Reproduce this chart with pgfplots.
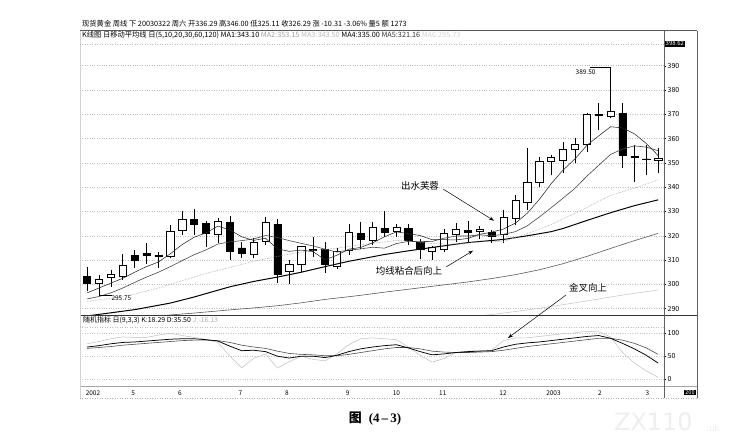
\documentclass[border=0pt]{standalone}
\usepackage{pgfplots}
\pgfplotsset{compat=1.18}
\usepackage{pgfplotstable}
\usepackage{fontspec}
\setmainfont{Noto Sans CJK SC}
\newfontfamily\serifb{Liberation Serif}
\newfontfamily\wmfont{DejaVu Sans}
\usetikzlibrary{arrows.meta}
\newcommand{\fs}[1]{\fontsize{#1}{#1}\selectfont}

% weekly candles: index, open, high, low, close
\pgfplotstableread{
i O H L C
1 303.2 307.0 297.4 300.6
2 300.6 304.0 295.75 302.0
3 302.9 305.9 299.0 304.3
4 303.5 312.5 302.0 308.0
5 311.8 314.2 306.6 310.0
6 312.8 317.0 308.4 312.0
7 312.0 313.5 306.6 311.5
8 311.7 324.4 310.7 321.7
9 322.4 330.3 320.3 326.8
10 326.9 331.0 320.3 324.9
11 325.0 326.0 315.5 321.0
12 320.7 327.2 317.0 325.8
13 325.4 328.2 310.0 313.5
14 315.0 317.6 310.7 313.0
15 312.5 319.0 310.7 317.2
16 317.6 327.6 316.2 325.4
17 324.7 327.0 300.7 304.0
18 305.2 310.0 300.0 308.4
19 308.4 316.0 305.2 315.5
20 314.5 319.3 311.4 314.0
21 314.4 317.6 304.8 308.4
22 307.6 315.0 306.5 313.5
23 314.2 325.0 312.0 321.3
24 321.0 325.8 314.4 318.6
25 318.3 325.8 316.2 323.5
26 323.0 330.0 319.6 321.3
27 321.7 325.0 319.6 323.3
28 323.0 324.7 316.2 318.0
29 317.3 318.5 310.3 314.4
30 313.7 316.0 310.0 315.1
31 314.4 322.7 313.5 321.0
32 320.7 325.1 317.6 322.8
33 322.1 326.2 317.6 321.3
34 321.7 324.0 318.5 322.8
35 321.3 322.5 317.2 319.6
36 320.5 330.6 317.2 327.6
37 327.2 336.8 324.4 334.7
38 334.0 356.0 330.6 341.9
39 341.9 352.6 340.2 350.5
40 350.5 353.3 345.0 352.3
41 350.9 358.7 345.7 355.6
42 355.6 360.1 349.8 357.8
43 357.8 370.4 354.6 370.0
44 369.5 374.8 363.5 370.0
45 369.0 389.5 368.4 371.1
46 370.4 374.5 347.8 353.0
47 352.8 357.4 342.3 352.3
48 351.7 357.4 345.0 351.3
49 351.2 356.0 345.7 352.1
}\candles

\pgfplotstableread{
i v
1 296.5
2 298.5
3 300.5
4 302.5
5 305.0
6 307.3
7 309.2
8 312.6
9 316.4
10 319.4
11 321.2
12 324.0
13 322.4
14 319.6
15 318.1
16 319.0
17 314.6
18 313.6
19 314.1
20 313.5
21 310.1
22 312.0
23 314.5
24 315.2
25 317.1
26 319.6
27 321.6
28 320.9
29 320.1
30 318.4
31 318.4
32 318.3
33 318.9
34 320.6
35 321.5
36 322.8
37 325.2
38 329.3
39 334.9
40 341.4
41 347.0
42 351.6
43 357.2
44 361.1
45 364.9
46 364.4
47 362.0
48 358.0
49 353.0
}\maA

\pgfplotstableread{
i v
1 294.0
2 295.0
3 296.5
4 298.5
5 300.8
6 303.0
7 305.0
8 307.3
9 309.8
10 312.2
11 314.2
12 316.6
13 317.5
14 318.0
15 318.7
16 320.1
17 319.3
18 318.0
19 316.9
20 315.8
21 314.5
22 313.3
23 314.1
24 314.6
25 315.3
26 314.9
27 316.8
28 317.7
29 317.6
30 317.7
31 319.0
32 319.9
33 319.9
34 320.4
35 320.0
36 320.6
37 321.7
38 324.1
39 327.7
40 331.5
41 335.5
42 339.5
43 344.5
44 349.0
45 353.5
46 355.7
47 357.0
48 356.5
49 355.0
}\maB

\pgfplotstableread{
i v
1 293.0
3 294.2
5 296.0
7 298.5
9 301.5
11 304.5
13 307.0
15 309.5
17 311.5
19 313.3
20 314.0
22 314.9
24 316.3
26 317.5
27 318.1
28 317.9
30 316.8
32 316.6
34 317.5
36 317.7
37 319.3
38 320.9
39 322.7
40 324.6
41 327.0
42 329.2
43 331.6
44 334.2
45 336.6
46 338.1
47 339.6
48 341.3
49 343.1
}\maC

\pgfplotstableread{
i v
1 287.0
3 288.3
5 289.6
8 292.3
10 294.8
13 299.0
15 301.2
17 303.0
19 305.0
21 307.3
23 309.5
26 312.3
28 313.8
30 315.2
33 317.2
36 318.5
38 320.0
40 321.7
41 323.0
43 326.3
45 329.5
47 332.4
49 334.8
}\maD

\pgfplotstableread{
i v
7 287.0
10 288.2
13 289.5
15 290.3
17 291.2
19 292.4
21 293.8
24 295.5
26 296.8
28 298.0
30 299.2
33 301.0
35 302.4
37 304.0
39 306.0
41 308.5
43 311.5
45 314.8
47 318.0
49 321.0
}\maE

\pgfplotstableread{
i v
34 287.0
36 288.2
38 289.5
40 290.9
42 292.4
44 294.0
46 295.6
48 297.0
49 297.7
}\maF

\pgfplotstableread{
i K D J
1 70 67 77
2 73 69 82
3 77 71 88
4 80 74 92
5 81 76 91
6 83 78 91
7 85 80 96
8 87 82 100
9 88 84 95
10 88 85 91
11 86 85 87
12 83 84 80
13 72 80 50
14 62 74 25
15 63 70 45
16 60 67 55
17 50 61 24
18 46 56 38
19 50 54 50
20 50 53 43
21 47 51 40
22 52 51 55
23 60 54 75
24 66 58 88
25 70 62 90
26 73 66 88
27 75 69 86
28 68 69 70
29 60 66 52
30 53 61 37
31 55 59 45
32 58 58 58
33 60 58 61
34 61 59 62
35 62 60 63
36 70 63 84
37 76 67 90
38 79 71 90
39 81 74 93
40 84 77 96
41 87 80 99
42 90 83 101
43 93 86 104
44 95 89 103
45 89 89 92
46 78 85 58
47 66 78 35
48 52 68 18
49 35 54 4
}\kdj

\begin{document}
\begin{tikzpicture}[x=1bp,y=1bp]
\path[use as bounding box] (0,0) rectangle (748,444);

\pgfplotsset{
  panel/.style={at={(80bp,#1)}, anchor=south west, scale only axis,
    width=584bp, xmin=0.41, xmax=49.49},
  mainy/.style={height=284bp, ymin=287.4, ymax=404.3},
}

% ---------- main panel: grid, ticks, wicks ----------
\begin{axis}[panel=129bp, mainy,
  axis line style={draw=none},
  xtick=\empty,
  ytick={290,300,...,390},
  ytick pos=right, yticklabel pos=right,
  tick align=outside, major tick length=2bp,
  tick style={black, line width=0.4bp},
  yticklabel style={font=\fs{7}, anchor=west, inner sep=1.5bp},
  /pgf/number format/assume math mode=true,
  ymajorgrids, grid style={gray!50, dotted, line width=0.5bp}]
\addplot[draw=none, mark=none,
  error bars/.cd, y dir=plus, y explicit, error mark=none,
  error bar style={draw=black, line width=0.5bp, solid}]
  table[x=i, y=L, y error expr=\thisrow{H}-\thisrow{L}] {\candles};
\end{axis}

% ---------- candle bodies ----------
\begin{axis}[panel=129bp, mainy, hide axis, ybar stacked, bar width=7.2bp]
\addplot[draw=none, fill=none] table[x=i, y expr={min(\thisrow{O},\thisrow{C})}] {\candles};
\addplot[draw=black, fill=white, line width=0.55bp] table[x=i, y expr={max(\thisrow{C}-\thisrow{O},0)}] {\candles};
\addplot[draw=black, fill=black, line width=0.55bp] table[x=i, y expr={max(\thisrow{O}-\thisrow{C},0)}] {\candles};
\end{axis}

% ---------- moving averages ----------
\begin{axis}[panel=129bp, mainy, hide axis]
\addplot[gray!45, line width=0.55bp] table[x=i, y=v] {\maF};
\addplot[gray!70!black, line width=0.6bp] table[x=i, y=v] {\maE};
\addplot[black, line width=1.0bp] table[x=i, y=v] {\maD};
\addplot[gray!75, line width=0.6bp, densely dotted] table[x=i, y=v] {\maC};
\addplot[gray!55!black, line width=0.6bp] table[x=i, y=v] {\maB};
\addplot[black!85, line width=0.55bp] table[x=i, y=v] {\maA};
% high / low markers
\draw[black, line width=0.4bp] (axis cs:2,295.75) -- (axis cs:3.1,295.75);
\node[anchor=north west, font=\fs{6.5}, inner sep=0.5bp] at (axis cs:3.0,295.6) {295.75};
\draw[black, line width=0.4bp] (axis cs:43.3,389.5) -- (axis cs:45,389.5);
\node[font=\fs{6.5}, inner sep=0.5bp] at (axis cs:42.9,387.2) {389.50};
\end{axis}

% ---------- stochastic (KDJ) panel ----------
\begin{axis}[panel=57.5bp, height=61.5bp, ymin=-16, ymax=118,
  axis line style={draw=none},
  ytick={0,50,100}, ytick pos=right, yticklabel pos=right,
  xtick={1.5,4.87,8.8,13.9,17.8,22.9,27,30.9,35.96,40.2,44.1,48.1},
  xticklabels={2002,5,6,7,8,9,10,11,12,2003,2,3},
  xtick pos=bottom,
  tick align=outside, major tick length=2bp,
  tick style={black, line width=0.4bp},
  xtick style={draw=none},
  yticklabel style={font=\fs{7}, anchor=west, inner sep=1.5bp},
  xticklabel style={font=\fs{6.5}, inner sep=1bp, yshift=-1bp},
  /pgf/number format/assume math mode=true,
  ymajorgrids, grid style={gray!45, dotted, line width=0.5bp}]
\addplot[gray!50, line width=0.5bp] table[x=i, y=J] {\kdj};
\addplot[gray!60!black, line width=0.6bp] table[x=i, y=D] {\kdj};
\addplot[black, line width=0.75bp] table[x=i, y=K] {\kdj};
\end{axis}

% ---------- frames ----------
\draw[gray!70!black, line width=0.6bp] (80,413.3) -- (697,413.3);
\draw[black!80, line width=0.8bp] (80,129) -- (697,129);
\draw[gray!70, line width=0.5bp] (80,57.5) -- (697,57.5);
\draw[gray!60, line width=0.5bp, dotted] (80,45.5) -- (697,45.5);
\draw[gray!75!black, line width=0.6bp] (664,45.5) -- (664,413.3);
\draw[gray!75!black, line width=0.6bp] (697,45.5) -- (697,413.3);
\draw[gray!35, line width=0.4bp] (80,45.5) -- (80,413.3);
\draw[gray!50, dotted, line width=0.5bp] (80,400.2) -- (664,400.2);
\draw[gray!50, dotted, line width=0.5bp] (80,116.5) -- (664,116.5);

% ---------- boxes at the right ----------
\node[anchor=west, fill=black, text=white, font=\fs{6}, inner sep=1bp] at (664.5,400.2) {398.62};
\node[fill=black, text=white, font=\fs{5.5}, inner sep=0.8bp, minimum width=12bp] at (690,51.5) {200};

% ---------- header texts ----------
\node[anchor=west, inner sep=0, font=\fs{7.3}] at (82,420.5)
  {现货黄金 周线 下 20030322 周六 开336.29 高346.00 低325.11 收326.29 涨 -10.31 -3.06\% 量5 额 1273};
\node[anchor=west, inner sep=0, font=\fs{7.3}] at (82,408.5)
  {K线图 日移动平均线 日(5,10,20,30,60,120) MA1:343.10 \textcolor{gray!75}{MA2:353.15} \textcolor{gray!55}{MA3:343.50} MA4:335.00 \textcolor{black!80}{MA5:321.16} \textcolor{gray!35}{MA6:295.73}};
\node[anchor=west, inner sep=0, font=\fs{7}] at (83,124)
  {随机指标 日(9,3,3) K:18.29 D:35.50 \textcolor{gray!60}{J:-16.13}};

% ---------- annotations ----------
\node[font=\fs{9.5}] at (420,258) {出水芙蓉};
\draw[black, line width=0.5bp, -{Stealth[length=5bp,width=3.5bp]}] (443,255) -- (494,223.3);
\node[font=\fs{9.5}] at (409,173) {均线粘合后向上};
\draw[black, line width=0.5bp, -{Stealth[length=5bp,width=3.5bp]}] (446,177) -- (473,193.3);
\node[font=\fs{9.5}] at (588,156) {金叉向上};
\draw[black, line width=0.5bp, -{Stealth[length=5bp,width=3.5bp]}] (566,149) -- (508,106);

% ---------- caption and watermark ----------
\node[font=\fs{13}] at (375,25) {\textbf{图}\hspace{7bp}{\serifb\bfseries (4\,–\,3)}};
\node[anchor=west, text=gray!13, font=\wmfont\fs{24}, inner sep=0] at (614,22) {ZX110};
\node[anchor=west, text=gray!13, font=\wmfont\fs{9}, inner sep=0] at (706,16) {.uk};
\end{tikzpicture}
\end{document}
